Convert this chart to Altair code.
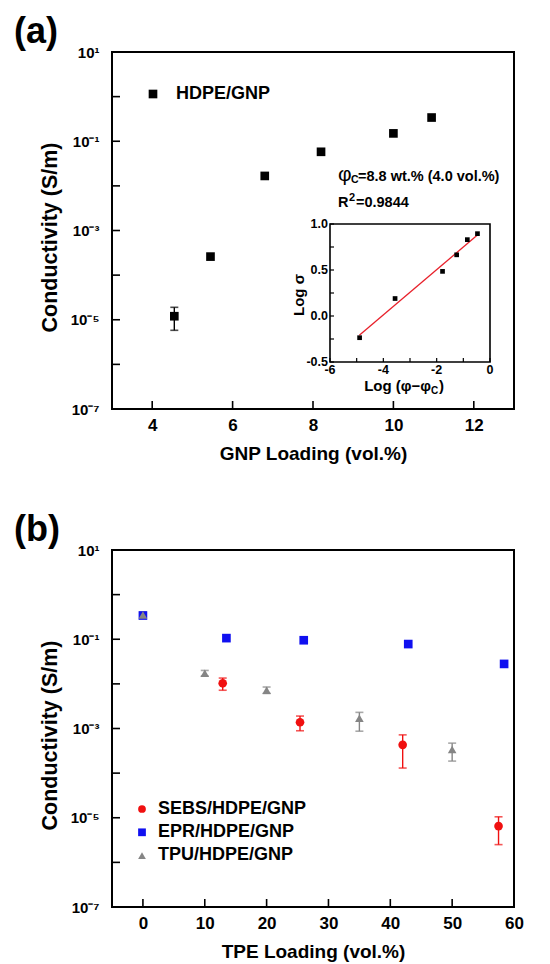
import altair as alt
import pandas as pd

FONT = "Liberation Sans"

# ---------------- Panel (a): HDPE/GNP ----------------
gnp_loading = [4.55, 5.45, 6.8, 8.2, 10.0, 10.95]
gnp_cond = [1.2e-5, 2.6e-4, 1.67e-2, 5.8e-2, 0.15, 0.34]
gnp_err_x = [4.55]
gnp_err_lo = [5.8e-6]
gnp_err_hi = [1.9e-5]
a_series = ["HDPE/GNP"]

# inset: Log sigma vs Log(phi - phi_c)
inset_x = [-4.89, -3.56, -1.78, -1.25, -0.85, -0.47]
inset_y = [-0.236, 0.19, 0.485, 0.665, 0.83, 0.895]
fit_x = [-4.9, -0.45]
fit_y = [-0.21, 0.885]
inset_xdom = [-6, 0]
inset_ydom = [-0.5, 1.0]
inset_xticks = [-6, -4, -2, 0]
inset_xminor = [-5, -3, -1]
inset_yticks = [-0.5, 0.0, 0.5, 1.0]
inset_yminor = [-0.25, 0.25, 0.75]

# ---------------- Panel (b): TPE blends ----------------
b_series = ["SEBS/HDPE/GNP", "EPR/HDPE/GNP", "TPU/HDPE/GNP"]
b_colors = ["#f01010", "#1010f0", "#858585"]
b_shapes = ["circle", "square", "triangle-up"]

sebs_x = [12.9, 25.4, 42.0, 57.5]
sebs_y = [1.03e-2, 1.38e-3, 4.3e-4, 6.5e-6]
sebs_lo = [7.2e-3, 8.9e-4, 1.3e-4, 2.5e-6]
sebs_hi = [1.35e-2, 1.9e-3, 7.2e-4, 1.05e-5]

epr_x = [0, 13.5, 26.0, 42.9, 58.4]
epr_y = [0.34, 0.106, 0.095, 0.078, 0.028]

tpu_x = [0, 10, 20, 35, 50]
tpu_y = [0.35, 0.0173, 0.0072, 0.0017, 3.4e-4]
tpu_lo = [0.30, 0.0150, 0.0061, 8.7e-4, 1.86e-4]
tpu_hi = [0.41, 0.0200, 0.0085, 2.3e-3, 4.7e-4]

panel_labels = ["(a)", "(b)"]

# ---------------- axes ----------------
decade_ticks = [10, 1, 0.1, 1e-2, 1e-3, 1e-4, 1e-5, 1e-6, 1e-7]
decade_labels = [10, 0.1, 1e-3, 1e-5, 1e-7]
a_xticks = [4, 6, 8, 10, 12]
b_xticks = [0, 10, 20, 30, 40, 50, 60]
a_xdom = [3, 13]
b_xdom = [-5, 60]
y_dom = [1e-7, 10]

W, H = 402, 357
TICK = 8

SUP = {"-": "\u207b", "0": "\u2070", "1": "\u00b9", "2": "\u00b2", "3": "\u00b3",
       "4": "\u2074", "5": "\u2075", "6": "\u2076", "7": "\u2077", "8": "\u2078", "9": "\u2079"}


def sup_label(v):
    import math
    e = int(round(math.log10(v)))
    return "10" + "".join(SUP[c] for c in str(e))


expr = "''"
for v in sorted(decade_labels):
    expr = f"datum.value > {v * 0.5} ? '{sup_label(v)}' : ({expr})"

y_axis = alt.Axis(values=decade_labels, labelExpr=expr, ticks=False, domain=False, grid=False,
                  labelFontSize=15, labelFontWeight="bold", labelPadding=13, labelFlush=False,
                  labelOverlap=False, labelFont=FONT, labelColor="black",
                  title="Conductivity (S/m)", titleFontSize=21.5, titleFontWeight="bold",
                  titlePadding=9, titleFont=FONT, titleColor="black", titleY=185)


def x_axis(values, title):
    return alt.Axis(values=values, format="d", ticks=False, domain=False, grid=False,
                    labelFontSize=17, labelFontWeight="bold", labelPadding=8, labelFlush=False,
                    labelOverlap=False, labelFont=FONT, labelColor="black",
                    title=title, titleFontSize=19, titleFontWeight="bold", titlePadding=11,
                    titleFont=FONT, titleColor="black")


y_scale = alt.Scale(type="log", domain=y_dom, nice=False)


def txt(s, x, y, size, weight="bold", align="left", baseline="alphabetic", angle=0):
    return alt.Chart(pd.DataFrame({"t": [s]})).mark_text(
        fontSize=size, fontWeight=weight, font=FONT, align=align, baseline=baseline,
        color="black", angle=angle).encode(x=alt.value(x), y=alt.value(y), text="t:N")


def make_main(xdom, xticks, xtitle, pts_df, err_df, cdom, crange, srange, legend_pos, label):
    xs = alt.Scale(domain=xdom, nice=False, zero=False)
    xax = x_axis(xticks, xtitle)

    def X(f):
        return alt.X(f, type="quantitative", scale=xs, axis=xax)

    def Y(f):
        return alt.Y(f, type="quantitative", scale=y_scale, axis=y_axis)

    cscale = alt.Scale(domain=cdom, range=crange)
    sscale = alt.Scale(domain=cdom, range=srange)
    col = alt.Color("series:N", scale=cscale, legend=None)
    shp = alt.Shape("series:N", scale=sscale, legend=None)

    err_rule = alt.Chart(err_df).mark_rule(strokeWidth=1.4).encode(
        x=X("x"), y=Y("lo"), y2="hi", color=col)
    cap_lo = alt.Chart(err_df).mark_tick(orient="horizontal", size=8, thickness=1.6).encode(
        x=X("x"), y=Y("lo"), color=col)
    cap_hi = alt.Chart(err_df).mark_tick(orient="horizontal", size=8, thickness=1.6).encode(
        x=X("x"), y=Y("hi"), color=col)
    pts = alt.Chart(pts_df).mark_point(filled=True, size=75, opacity=1).encode(
        x=X("x"), y=Y("y"), color=col, shape=shp, order=alt.Order("ord:Q"))
    xt = alt.Chart(pd.DataFrame({"v": xticks})).mark_rule(color="black", strokeWidth=1.6).encode(
        x=X("v"), y=alt.value(H), y2=alt.value(H - TICK))
    yt = alt.Chart(pd.DataFrame({"v": decade_ticks})).mark_rule(color="black", strokeWidth=1.6).encode(
        y=Y("v"), x=alt.value(0), x2=alt.value(TICK))

    layers = [err_rule, cap_lo, cap_hi, pts, xt, yt]
    # legend entries: symbol + label, coloured through the same scales
    sx, tx, y0, step, ssize = legend_pos
    for i, name in enumerate(cdom):
        ent = pd.DataFrame({"series": [name]})
        layers.append(alt.Chart(ent).mark_point(filled=True, size=ssize, opacity=1).encode(
            x=alt.value(sx), y=alt.value(y0 + i * step), color=col, shape=shp))
        layers.append(alt.Chart(ent).mark_text(
            fontSize=18, fontWeight="bold", font=FONT, align="left", baseline="alphabetic",
            color="black").encode(x=alt.value(tx), y=alt.value(y0 + i * step + 4.5), text="series:N"))
    layers.append(txt(label, -98, -9, 36))
    return alt.layer(*layers)


# ---------------- panel (a) ----------------
df_a = pd.DataFrame({"x": gnp_loading, "y": gnp_cond, "series": a_series[0], "ord": 0})
err_a = pd.DataFrame({"x": gnp_err_x, "lo": gnp_err_lo, "hi": gnp_err_hi, "series": a_series[0]})
main_a = make_main(a_xdom, a_xticks, "GNP Loading (vol.%)", df_a, err_a, a_series, ["black"],
                   ["square"], (41, 64, 42, 0, 75), panel_labels[0])

# inset, drawn with its own scales placed inside the plot area
ixs = alt.Scale(domain=inset_xdom, range=[218, 378], nice=False, zero=False)
iys = alt.Scale(domain=inset_ydom, range=[310, 172], nice=False, zero=False)


def IX(f):
    return alt.X(f, type="quantitative", scale=ixs, axis=None)


def IY(f):
    return alt.Y(f, type="quantitative", scale=iys, axis=None)


frame = alt.Chart(pd.DataFrame({"x0": [inset_xdom[0]], "x1": [inset_xdom[1]],
                                "y0": [inset_ydom[0]], "y1": [inset_ydom[1]]})).mark_rect(
    fillOpacity=0, stroke="black", strokeWidth=1.6).encode(x=IX("x0"), x2="x1", y=IY("y0"), y2="y1")
fit = alt.Chart(pd.DataFrame({"x": fit_x, "y": fit_y})).mark_line(color="#e8202a", strokeWidth=1.3).encode(
    x=IX("x"), y=IY("y"))
ipts = alt.Chart(pd.DataFrame({"x": inset_x, "y": inset_y})).mark_point(
    filled=True, shape="square", size=22, color="black", opacity=1).encode(x=IX("x"), y=IY("y"))
ixt = alt.Chart(pd.DataFrame({"v": inset_xticks + inset_xminor})).mark_rule(
    color="black", strokeWidth=1.2).encode(x=IX("v"), y=alt.value(310), y2=alt.value(306))
iyt = alt.Chart(pd.DataFrame({"v": inset_yticks + inset_yminor})).mark_rule(
    color="black", strokeWidth=1.2).encode(y=IY("v"), x=alt.value(218), x2=alt.value(222))
ixl = alt.Chart(pd.DataFrame({"v": inset_xticks})).transform_calculate(
    t="toString(datum.v)").mark_text(fontSize=12.5, fontWeight="bold", font=FONT, baseline="top",
                                     color="black").encode(x=IX("v"), y=alt.value(312), text="t:N")
iyl = alt.Chart(pd.DataFrame({"v": inset_yticks})).transform_calculate(
    t="replace(format(datum.v, '.1f'), '\u2212', '-')").mark_text(
    fontSize=12.5, fontWeight="bold", font=FONT, align="right", baseline="middle",
    color="black").encode(y=IY("v"), x=alt.value(216), text="t:N")

ytitle_in = txt("Log \u03c3", 187, 243, 15, align="center", baseline="middle", angle=270)
xt_in1 = txt("Log (\u03c6\u2212\u03c6", 319, 339, 15, align="right")
xt_in2 = txt("C", 319, 342, 10)
xt_in3 = txt(")", 327, 339, 15)
phi1 = txt("\u03c6", 226, 129, 21, weight="normal")
phi2 = txt("C", 239, 131, 10.5)
phi3 = txt("=8.8 wt.% (4.0 vol.%)", 246, 129, 14.5)
r2a = txt("R", 226, 155, 14.5)
r2b = txt("2", 237, 149, 11)
r2c = txt("=0.9844", 244, 155, 14.5)

inset = alt.layer(frame, fit, ipts, ixt, iyt, ixl, iyl, ytitle_in, xt_in1, xt_in2, xt_in3,
                  phi1, phi2, phi3, r2a, r2b, r2c)

panel_a = alt.layer(main_a, inset).resolve_scale(x="independent", y="independent").properties(
    width=W, height=H)

# ---------------- panel (b) ----------------
rows = []
for i, (xs_, ys_) in enumerate([(sebs_x, sebs_y), (epr_x, epr_y), (tpu_x, tpu_y)]):
    order_rank = [1, 0, 2][i]
    for xv, yv in zip(xs_, ys_):
        rows.append({"x": xv, "y": yv, "series": b_series[i], "ord": order_rank})
df_b = pd.DataFrame(rows)
err_rows = []
for name, xs_, lo_, hi_ in [(b_series[0], sebs_x, sebs_lo, sebs_hi), (b_series[2], tpu_x, tpu_lo, tpu_hi)]:
    for xv, l, h in zip(xs_, lo_, hi_):
        err_rows.append({"x": xv, "lo": l, "hi": h, "series": name})
err_b = pd.DataFrame(err_rows)

main_b = make_main(b_xdom, b_xticks, "TPE Loading (vol.%)", df_b, err_b, b_series, b_colors,
                   b_shapes, (30, 46, 259, 23.3, 60), panel_labels[1])
panel_b = main_b.properties(width=W, height=H)

chart = alt.vconcat(panel_a, panel_b, spacing=47).resolve_scale(
    color="independent", shape="independent").configure(
    font=FONT, background="white").configure_view(stroke="black", strokeWidth=2)

chart.save("out.html", embed_options={"renderer": "svg", "actions": False})
